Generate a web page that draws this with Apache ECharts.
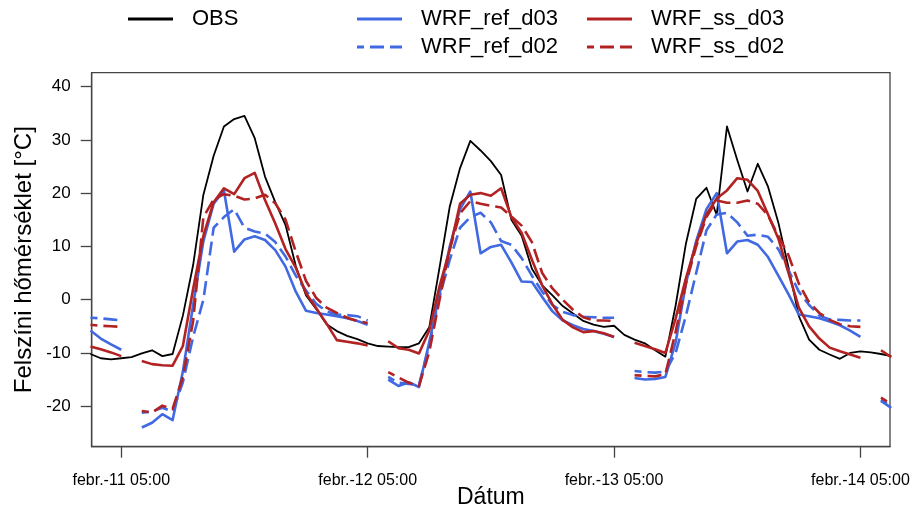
<!DOCTYPE html>
<html>
<head>
<meta charset="utf-8">
<script src="https://cdn.jsdelivr.net/npm/echarts@6/dist/echarts.min.js"></script>
<style>
html,body{margin:0;padding:0;background:#fff;}
#chart{width:914px;height:510px;}
</style>
</head>
<body>
<div id="chart"></div>
<script>
// Hours relative to febr.-11 05:00 (hourly, from -3 to 75)
const hours = [];
for (let h = -3; h <= 75; h++) hours.push(h);

const tickHours = [0, 24, 48, 72];
const tickLabels = ['febr.-11 05:00', 'febr.-12 05:00', 'febr.-13 05:00', 'febr.-14 05:00'];
const yTicks = [-20, -10, 0, 10, 20, 30, 40];

// OBS
const OBS = [
  -10.2, -11.0, -11.2,
  -11.0, -10.8, -10.1, -9.5, -10.6, -10.2, -3.0, 6.5, 19.7, 27.0, 32.5, 33.9, 34.5, 30.3, 23.1, 18.3, 14.0, 6.3, 0.8, -1.8, -4.6, -5.9, -6.8, -7.4,
  -8.2, -8.7, -8.8, -8.9, -8.9, -8.2, -5.2, 6.0, 17.5, 24.7, 29.8, 28.0, 26.0, 23.4, 15.0, 12.0, 5.8, 2.7, 0.8, -1.2, -2.6, -4.0, -4.7, -5.1,
  -4.9, -6.6, -7.5, -8.2, -9.5, -10.7, -1.1, 10.5, 18.9, 21.0, 15.9, 32.5, 26.2, 20.3, 25.5, 21.2, 14.5, 6.0, -3.1, -7.5, -9.4, -10.3, -11.1, -10.0,
  -9.7, -9.9, -10.2, -10.6
];

// WRF_ref_d03
const WRF_ref_d03 = [
  -5.8, -7.3, -8.4,
  -9.4, null, -24.0, -23.1, -21.5, -22.6, -13.5, -1.0, 11.0, 18.0, 20.5, 9.0, 11.3, 11.9, 11.2, 9.3, 6.2, 1.5, -2.1, -2.5, -2.8, -3.1, -3.5, -4.0,
  -4.7, null, -15.0, -16.2, -15.5, -16.4, -8.0, 1.0, 10.0, 17.0, 20.3, 8.7, 9.9, 10.3, 7.0, 3.4, 3.3, 0.5, -2.2, -3.9, -4.8, -5.5, -5.9, -6.4,
  -7.0, null, -14.7, -15.0, -14.9, -14.5, -8.0, 3.0, 11.0, 17.0, 20.0, 8.7, 10.9, 11.2, 10.3, 8.0, 4.5, 1.0, -2.8, -3.1, -3.5, -4.1, -4.8, -5.8,
  -7.0, null, -19.0, -20.3
];

// WRF_ref_d02
const WRF_ref_d02 = [
  -3.4, -3.5, -3.7,
  -3.9, null, -21.2, -21.0, -20.3, -21.0, -15.5, -7.0, 0.0, 13.5, 15.5, 17.0, 13.5, 12.8, 12.4, 10.8, 8.1, 4.5, 1.7, -0.8, -2.2, -2.8, -2.9, -3.1,
  -3.9, null, -14.5, -15.6, -15.8, -16.0, -8.5, 0.5, 7.5, 13.5, 15.5, 16.3, 14.5, 11.0, 10.3, 7.8, 4.5, 1.5, -1.0, -2.3, -2.9, -3.2, -3.3, -3.4,
  -3.4, null, -13.4, -13.6, -13.7, -13.5, -10.0, -3.0, 5.0, 13.0, 16.0, 16.3, 14.5, 12.0, 12.2, 11.8, 9.5, 5.5, 1.5, -1.0, -3.0, -3.7, -3.8, -3.9,
  -3.9, null, -18.8, -20.0
];

// WRF_ss_d03
const WRF_ss_d03 = [
  -8.8, -9.3, -9.9,
  -10.6, null, -11.5, -12.1, -12.3, -12.4, -8.7, 2.0, 12.0, 18.3, 20.9, 19.8, 22.8, 23.8, 18.7, 14.3, 9.5, 6.0, 1.2, -1.6, -4.5, -7.6, -7.9, -8.2,
  -8.6, null, -7.8, -9.1, -9.4, -10.1, -5.8, 2.5, 9.4, 18.0, 19.7, 20.0, 19.5, 20.9, 15.5, 12.5, 7.5, 2.7, -0.9, -3.8, -5.2, -6.1, -5.9, -6.3,
  -7.0, null, -8.1, -8.7, -9.3, -10.0, -3.5, 4.0, 10.5, 16.0, 19.0, 20.5, 22.8, 22.5, 20.4, 16.0, 11.5, 5.0, -1.5, -5.0, -7.3, -9.0, -9.7, -10.3,
  -10.9, null, -9.5, -10.8
];

// WRF_ss_d02
const WRF_ss_d02 = [
  -4.7, -4.9, -5.0,
  -5.1, null, -20.9, -21.2, -19.9, -20.5, -14.5, -4.0, 15.5, 18.8, 19.8, 19.5, 18.8, 19.0, 19.7, 18.1, 15.0, 9.0, 3.5, 0.3, -1.5, -2.5, -3.4, -4.0,
  -4.4, null, -13.6, -14.6, -15.6, -16.2, -9.8, 0.0, 9.5, 16.2, 18.5, 18.0, 17.6, 17.3, 15.6, 13.9, 10.8, 5.0, 2.1, 0.0, -1.9, -3.3, -3.9, -3.9,
  -4.0, null, -14.2, -14.3, -14.4, -14.0, -6.0, 3.0, 10.0, 15.5, 18.6, 18.2, 18.2, 18.6, 18.0, 15.8, 12.0, 8.3, 3.0, -0.5, -2.5, -3.8, -4.6, -5.0,
  -5.1, null, -18.4, -19.6
];

const BLUE = '#4169E1';
const RED = '#B22222';
const FONT = 'Liberation Sans, Arial, Helvetica, sans-serif';
const DASH = [14, 6];
const ICON_SOLID = 'path://M0,0h45v3h-45z';
const ICON_DASH = 'path://M0,0h7v3h-7z M13,0h14v3h-14z M33,0h12v3h-12z';

function pairs(vals) {
  return hours.map((h, i) => [h, vals[i] === null ? '-' : vals[i]]);
}

function lineSeries(name, vals, color, width, dashed, z) {
  return {
    name: name,
    type: 'line',
    data: pairs(vals),
    showSymbol: false,
    symbol: 'none',
    connectNulls: false,
    clip: true,
    z: z,
    lineStyle: {
      color: color,
      width: width,
      type: dashed ? DASH : 'solid',
      dashOffset: dashed ? 7 : 0,
      join: 'round'
    },
    itemStyle: { color: color },
    emphasis: { disabled: true }
  };
}

function legendItem(name, color, dashed, left, top) {
  return {
    data: [{ name: name, icon: dashed ? ICON_DASH : ICON_SOLID, itemStyle: { color: color, borderWidth: 0 } }],
    left: left,
    top: top,
    padding: 0,
    itemWidth: 45,
    itemHeight: 3,
    selectedMode: false,
    textStyle: { fontSize: 22, color: '#000', fontFamily: FONT, padding: [0, 0, 0, 14] }
  };
}

const chart = echarts.init(document.getElementById('chart'), null, { renderer: 'canvas' });

chart.setOption({
  animation: false,
  backgroundColor: '#fff',
  textStyle: { fontFamily: FONT },
  grid: {
    left: 91.7,
    right: 24,
    top: 72.7,
    bottom: 63.3,
    containLabel: false,
    outerBoundsMode: 'none',
    show: true,
    borderColor: '#444',
    borderWidth: 1.3,
    backgroundColor: 'transparent'
  },
  legend: [
    legendItem('OBS', '#000000', false, 128, 8),
    legendItem('WRF_ref_d03', BLUE, false, 357, 8),
    legendItem('WRF_ss_d03', RED, false, 587, 8),
    legendItem('WRF_ref_d02', BLUE, true, 357, 36),
    legendItem('WRF_ss_d02', RED, true, 587, 36)
  ],
  xAxis: {
    type: 'value',
    min: -2.88,
    max: 74.88,
    name: 'Dátum',
    nameLocation: 'middle',
    nameGap: 39,
    nameMoveOverlap: false,
    nameTextStyle: { fontSize: 23, color: '#000', fontFamily: FONT },
    axisLine: { show: true, onZero: false, lineStyle: { color: '#444', width: 1.3 } },
    splitLine: { show: false },
    axisTick: {
      show: true,
      inside: false,
      length: 11,
      customValues: tickHours,
      lineStyle: { color: '#444', width: 1.3 }
    },
    axisLabel: {
      customValues: tickHours,
      margin: 26,
      fontSize: 16,
      color: '#000',
      fontFamily: FONT,
      formatter: function (v) {
        const i = tickHours.indexOf(v);
        return i >= 0 ? tickLabels[i] : '';
      }
    }
  },
  yAxis: {
    type: 'value',
    min: -27.6,
    max: 42.6,
    name: 'Felszíni hőmérséklet [°C]',
    nameLocation: 'middle',
    nameRotate: 90,
    nameGap: 55,
    nameMoveOverlap: false,
    nameTextStyle: { fontSize: 24, color: '#000', fontFamily: FONT },
    axisLine: { show: true, onZero: false, lineStyle: { color: '#444', width: 1.3 } },
    splitLine: { show: false },
    axisTick: {
      show: true,
      inside: false,
      length: 11,
      customValues: yTicks,
      lineStyle: { color: '#444', width: 1.3 }
    },
    axisLabel: {
      customValues: yTicks,
      margin: 21,
      fontSize: 17,
      color: '#000',
      fontFamily: FONT
    }
  },
  series: [
    lineSeries('OBS', OBS, '#000000', 1.8, false, 2),
    lineSeries('WRF_ref_d03', WRF_ref_d03, BLUE, 2.6, false, 3),
    lineSeries('WRF_ref_d02', WRF_ref_d02, BLUE, 2.6, true, 3),
    lineSeries('WRF_ss_d03', WRF_ss_d03, RED, 2.6, false, 4),
    lineSeries('WRF_ss_d02', WRF_ss_d02, RED, 2.6, true, 4)
  ]
});
</script>
</body>
</html>
